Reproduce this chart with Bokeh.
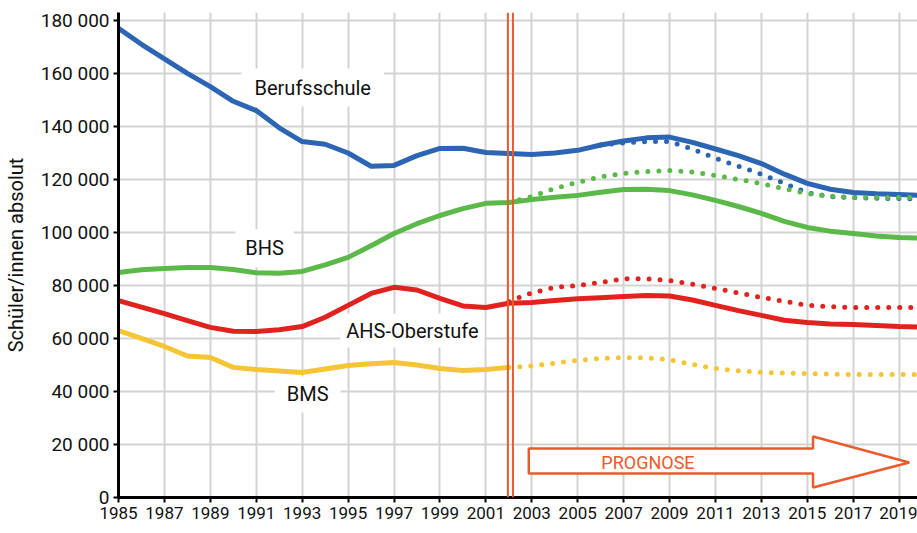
from bokeh.plotting import figure
from bokeh.models import Range1d, FixedTicker, Label, Span
from bokeh.embed import file_html
from bokeh.resources import INLINE

# ---------------- data ----------------
years_full = list(range(1985, 2021))
years_hist = list(range(1985, 2003))

beruf = [177000, 171000, 165500, 160000, 155000, 149500, 146000, 139500, 134300, 133300,
         130000, 125000, 125300, 129000, 131700, 131800, 130200, 129800, 129400, 130000,
         131000, 133000, 134500, 135700, 136000, 134000, 131500, 129000, 126000, 122000,
         118500, 116300, 115100, 114600, 114300, 114000]
beruf_prog_years = list(range(2006, 2021))
beruf_prog = [133000, 133800, 134300, 134300, 131500, 128000, 125000, 122000, 118500,
              115000, 113500, 113200, 112900, 112800, 112700]

bhs = [84900, 85900, 86400, 86800, 86800, 86000, 84800, 84600, 85300, 87800,
       90600, 95000, 99600, 103300, 106400, 109000, 111000, 111300, 112400, 113300,
       114000, 115200, 116200, 116300, 115800, 114200, 112100, 109800, 107200, 104200,
       101900, 100500, 99600, 98700, 98100, 97900]
bhs_prog_years = list(range(2002, 2021))
bhs_prog = [111300, 113600, 116600, 118900, 121000, 122300, 123000, 123400, 122800,
            121500, 120000, 118500, 116500, 114700, 113700, 113200, 113200, 113200, 113100]

ahs = [74300, 71800, 69400, 66700, 64200, 62700, 62600, 63300, 64500, 68000,
       72500, 77000, 79300, 78300, 75100, 72300, 71700, 73300, 73600, 74300,
       75000, 75400, 75800, 76200, 76000, 74500, 72500, 70500, 68700, 66900,
       66000, 65500, 65300, 64900, 64500, 64300]
ahs_prog_years = list(range(2002, 2021))
ahs_prog = [74000, 77200, 79300, 80000, 81100, 82500, 82500, 81900, 80500, 78900,
            77200, 75500, 74000, 72500, 72000, 71700, 71700, 71700, 71700]

bms = [63000, 60000, 57000, 53400, 52800, 49100, 48300, 47700, 47200, 48500,
       49800, 50500, 50900, 50000, 48700, 47900, 48300, 49100]
bms_prog_years = list(range(2002, 2021))
bms_prog = [49100, 49600, 50700, 51700, 52500, 52800, 52700, 52000, 50200, 48700,
            47800, 47200, 47000, 46800, 46600, 46400, 46400, 46400, 46400]

y_ticks = [0, 20000, 40000, 60000, 80000, 100000, 120000, 140000, 160000, 180000]
x_ticks = list(range(1985, 2020, 2))
prognose_year = 2002.07

# arrow outline (data units)
arrow_x = [2002.87, 2015.25, 2015.25, 2019.44, 2015.25, 2015.25, 2002.87]
arrow_y = [18500, 18500, 23000, 13200, 3770, 9060, 9060]

BLUE = "#2d65b5"
GREEN = "#5bb949"
RED = "#e1231f"
YELLOW = "#f6c535"
ORANGE = "#ea5a2c"
GRID = "#d3d3d3"
FONT = "Roboto"
TXT = "#111111"

p = figure(width=917, height=533, output_backend="svg", toolbar_location=None,
           x_range=Range1d(1985, 2019.8), y_range=Range1d(0, 183000),
           min_border_left=118, min_border_right=0, min_border_top=12,
           min_border_bottom=36)
p.outline_line_color = None
p.background_fill_color = "white"

# grid
p.xgrid.ticker = FixedTicker(ticks=x_ticks[1:])
p.ygrid.ticker = FixedTicker(ticks=y_ticks[1:])
for g in (p.xgrid, p.ygrid):
    g.grid_line_color = GRID
    g.grid_line_width = 2

# axes
p.xaxis.ticker = FixedTicker(ticks=x_ticks)
p.yaxis.ticker = FixedTicker(ticks=y_ticks)
p.yaxis.major_label_overrides = {t: (f"{t:,}".replace(",", " ") if t else "0") for t in y_ticks}
for ax in (p.xaxis, p.yaxis):
    ax.axis_line_color = "black"
    ax.axis_line_width = 3
    ax.major_tick_line_color = "black"
    ax.major_tick_line_width = 2
    ax.major_tick_out = 5
    ax.major_tick_in = 0
    ax.minor_tick_line_color = None
    ax.major_label_text_color = TXT
    ax.major_label_text_font = FONT
p.yaxis.major_label_text_font_size = "19px"
p.xaxis.major_label_text_font_size = "17px"
p.yaxis.axis_label = "Schüler/innen absolut"
p.yaxis.axis_label_text_font = FONT
p.yaxis.axis_label_text_font_size = "20px"
p.yaxis.axis_label_text_font_style = "normal"
p.yaxis.axis_label_text_color = TXT
p.yaxis.axis_label_standoff = 10
p.yaxis.major_label_standoff = 4
p.xaxis.major_label_standoff = 4

# series labels with white boxes (behind the lines, above the grid)
labels = [
    ("Berufsschule", 1993.46, 154700, 13, 7),
    ("BHS", 1991.36, 94000, 10, 7),
    ("AHS-Oberstufe", 1997.8, 63000, 6, 5),
    ("BMS", 1993.24, 38900, 12, 6),
]
for txt, lx, ly, padx, pady in labels:
    p.add_layout(Label(x=lx, y=ly, text=txt, text_font=FONT, text_font_size="20px",
                       text_color=TXT, text_align="center", text_baseline="middle",
                       background_fill_color="white", padding=(padx, pady),
                       level="underlay"))

# prognosis marker lines
for dx in (-0.11, 0.11):
    p.add_layout(Span(location=prognose_year + dx, dimension="height",
                      line_color=ORANGE, line_width=2))

# series
W = 5
p.line(years_full, beruf, line_color=BLUE, line_width=W, line_cap="round", line_join="round")
p.line(years_full, bhs, line_color=GREEN, line_width=W, line_cap="round", line_join="round")
p.line(years_full, ahs, line_color=RED, line_width=W, line_cap="round", line_join="round")
p.line(years_hist, bms, line_color=YELLOW, line_width=W, line_cap="round", line_join="round")

DOT = "0 11"
p.line(beruf_prog_years, beruf_prog, line_color=BLUE, line_width=5, line_dash=DOT, line_cap="round")
p.line(bhs_prog_years, bhs_prog, line_color=GREEN, line_width=5, line_dash=DOT, line_cap="round")
p.line(ahs_prog_years, ahs_prog, line_color=RED, line_width=5, line_dash=DOT, line_cap="round")
p.line(bms_prog_years, bms_prog, line_color=YELLOW, line_width=5, line_dash=DOT, line_cap="round")

# prognosis arrow
p.patch(arrow_x, arrow_y, fill_color="white", line_color=ORANGE, line_width=2.5)
p.add_layout(Label(x=2008.06, y=13200, text="PROGNOSE", text_font=FONT,
                   text_font_size="18px", text_color=ORANGE,
                   text_align="center", text_baseline="middle"))

open("out.html", "w").write(file_html(p, INLINE))
